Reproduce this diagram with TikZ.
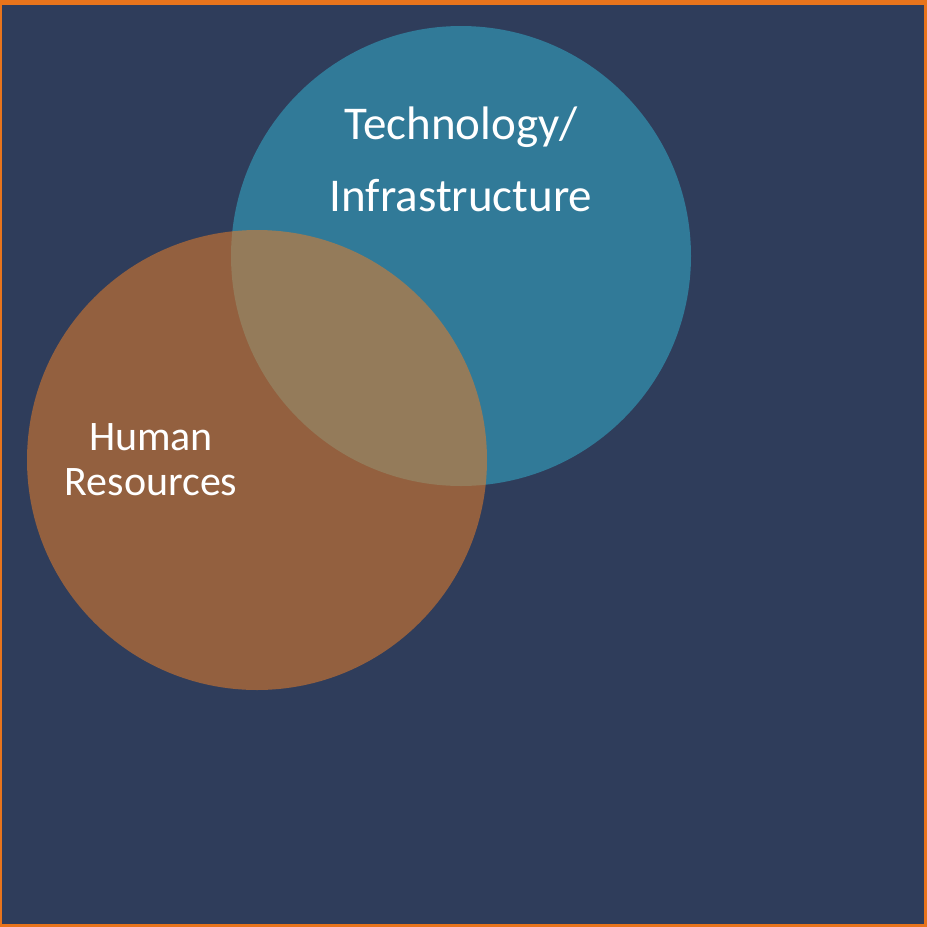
\documentclass[tikz,border=0pt]{standalone}
\usepackage{fontspec}
\setmainfont{Carlito}
\definecolor{frameorange}{HTML}{E8741C}
\definecolor{slidebg}{HTML}{2F3D5B}
\definecolor{techteal}{HTML}{317A98}
\definecolor{hrorange}{HTML}{E67D28}
\tikzset{
  venn/.style={circle, minimum size=460pt, inner sep=0pt},
  label1/.style={text=white, anchor=base, inner sep=0pt}
}
\begin{document}
\begin{tikzpicture}[x=1pt,y=-1pt]
			% slide background and frame
			\fill[frameorange] (0,0) rectangle (927,927);
			\fill[slidebg] (2,5) rectangle (924,924);
			\useasboundingbox (0,0) rectangle (927,927);

			\node[venn, fill=techteal] (tech) at (461,256) {};
			\node[venn, fill=hrorange, fill opacity=0.55] (hr) at (257,460) {};

			\node[label1, font=\fontsize{47}{56}\selectfont] (tech1) at (461,139) {Technology/};
			\node[label1, font=\fontsize{47}{56}\selectfont] (tech2) at (461,211) {Infrastructure};
			\node[label1, font=\fontsize{42}{50}\selectfont] (hr1) at (151,450) {Human};
			\node[label1, font=\fontsize{42}{50}\selectfont] (hr2) at (151,495) {Resources};
		\end{tikzpicture}
\end{document}
